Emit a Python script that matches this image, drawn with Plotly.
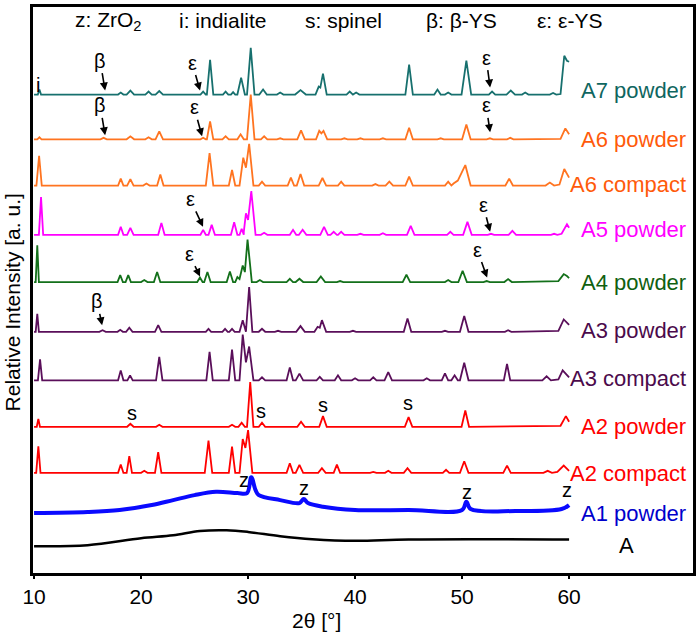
import plotly.graph_objects as go

# ---------------- data ----------------
# crystalline patterns: peaks as (2theta, height, half-base-width) or explicit vertices (2theta, height)
A7_powder = [(10.5, 5, 0.15), (18.1, 2, 0.25), (19.0, 4, 0.35), (20.7, 3, 0.3), (21.7, 3.5, 0.35),
             (25.8, 3, 0.25), (26.45, 35, 0.3), (27.9, 3, 0.25), (28.6, 2.5, 0.2), (29.35, 17, 0.35),
             (30.25, 47, 0.35), (31.4, 5, 0.35), (33.0, 2, 0.3), (34.9, 4.5, 0.5),
             (36.3, 0), (36.6, 8), (36.75, 7), (37.0, 21), (37.35, 0),
             (39.5, 3, 0.3), (40.1, 2, 0.3), (45.05, 30, 0.35), (47.7, 5, 0.3), (48.7, 2, 0.3),
             (50.4, 34, 0.45), (52.8, 3, 0.3), (54.55, 4, 0.4), (55.9, 2, 0.3), (58.5, 1.5, 0.3),
             (59.2, 0.5), (59.55, 39), (59.8, 34), (60.0, 33)]
A6_powder = [(10.5, 2, 0.2), (16.5, 1.5, 0.3), (19.0, 3, 0.35), (20.7, 2, 0.3), (21.7, 8, 0.35),
             (25.8, 1.5, 0.25), (26.45, 18, 0.3), (27.9, 3, 0.3), (29.3, 5, 0.3), (30.25, 45, 0.35),
             (31.5, 3, 0.3), (33.0, 1, 0.3), (34.95, 9, 0.35),
             (36.35, 0), (36.65, 8.5), (36.85, 6), (37.05, 8.5), (37.4, 0),
             (39.0, 1, 0.3), (40.5, 1, 0.3), (42.6, 1, 0.3), (45.05, 11.7, 0.35), (48.0, 1, 0.3),
             (50.4, 15, 0.4), (52.6, 1, 0.3), (54.5, 1.5, 0.3),
             (59.2, 0.5), (59.65, 11), (60.0, 5)]
A6_compact = [(10.47, 30, 0.25), (18.1, 7, 0.25), (19.0, 6.5, 0.3), (20.5, 2, 0.3), (21.8, 11, 0.3),
              (26.4, 32.6, 0.35), (28.5, 15.6, 0.3),
              (29.2, 0), (29.55, 28), (29.8, 18), (30.1, 42), (30.5, 0),
              (31.3, 4, 0.3), (34.0, 8, 0.3), (34.9, 11.6, 0.35), (36.95, 7.6, 0.35), (38.7, 4, 0.3),
              (41.9, 1.5, 0.3), (43.2, 4, 0.35), (45.05, 9, 0.35), (48.7, 4, 0.3),
              (49.2, 2), (49.6, 5), (50.3, 20.6), (50.8, 0),
              (54.4, 7, 0.35), (58.2, 3, 0.4),
              (59.1, 1), (59.55, 16.6), (60.0, 8)]
A5_powder = [(10.65, 38, 0.2), (18.1, 8, 0.25), (19.0, 7, 0.3), (21.9, 12, 0.3), (25.8, 5, 0.25),
             (26.6, 10, 0.3), (28.7, 12.6, 0.3), (29.4, 6, 0.2),
             (29.6, 3), (29.8, 21.6), (30.0, 15), (30.3, 44), (30.7, 0),
             (31.5, 2, 0.3), (34.2, 5, 0.3), (35.1, 5, 0.35), (37.1, 8, 0.35), (38.0, 3, 0.3),
             (38.7, 3, 0.3), (40.5, 1, 0.3), (42.6, 1.5, 0.3), (45.2, 9, 0.35), (48.9, 3, 0.3),
             (50.5, 13, 0.4), (52.7, 1, 0.3), (54.7, 4, 0.35), (58.6, 1, 0.3),
             (59.3, 1), (59.8, 10.6), (60.0, 7)]
A4_powder = [(10.3, 37, 0.15), (18.05, 7, 0.25), (18.8, 7, 0.25), (20.3, 2, 0.3), (21.5, 10, 0.3),
             (25.5, 4.6, 0.25), (26.2, 10, 0.3), (28.3, 10.7, 0.3),
             (28.8, 0), (29.0, 5), (29.2, 3), (29.5, 16.7), (29.7, 10), (29.95, 42.7), (30.35, 0),
             (31.1, 2, 0.3), (33.9, 3.3, 0.3), (34.8, 3.3, 0.35), (36.8, 5.7, 0.4), (38.6, 1, 0.3),
             (44.8, 7.3, 0.35), (48.7, 2, 0.3), (50.05, 11.4, 0.4), (52.3, 1, 0.3), (54.3, 3, 0.35),
             (59.0, 1), (59.5, 8), (59.8, 6), (60.0, 4)]
A3_powder = [(10.3, 18, 0.15), (16.4, 1.5, 0.3), (18.05, 2, 0.25), (18.9, 4, 0.3), (21.6, 6.7, 0.3),
             (26.3, 3, 0.25), (27.85, 3, 0.25), (28.5, 3, 0.25), (29.5, 11.7, 0.3), (30.1, 45, 0.3),
             (31.3, 3, 0.3), (32.8, 1, 0.3), (34.9, 5.7, 0.4),
             (36.2, 0), (36.5, 5), (36.7, 4), (36.9, 11.7), (37.3, 0),
             (39.8, 1, 0.3), (44.9, 13.3, 0.35), (48.4, 1, 0.3), (50.2, 16, 0.4), (54.3, 1.5, 0.3),
             (59.0, 1), (59.5, 12.4), (60.0, 7)]
A3_compact = [(10.56, 21, 0.2), (18.1, 10, 0.25), (18.97, 5, 0.25), (21.7, 23.6, 0.3), (26.4, 28.6, 0.3),
              (28.5, 31, 0.3),
              (29.2, 0), (29.5, 46), (29.8, 18), (30.1, 34), (30.5, 0),
              (31.3, 3, 0.3), (33.9, 13, 0.3), (34.8, 6.7, 0.35), (36.7, 3.5, 0.3), (38.4, 5, 0.3),
              (40.0, 2, 0.3), (41.7, 3, 0.3), (43.1, 8.3, 0.35), (46.7, 2, 0.3), (48.4, 7, 0.3),
              (49.3, 5, 0.3), (50.2, 17.6, 0.4), (54.2, 16.6, 0.3), (57.9, 4, 0.4),
              (59.0, 1), (59.4, 10), (60.0, 3)]
A2_powder = [(10.4, 8, 0.15), (19.0, 3, 0.3), (21.7, 2, 0.3), (28.5, 2, 0.3), (29.4, 4, 0.3),
             (30.2, 45, 0.3), (31.3, 4, 0.3), (34.95, 5, 0.35), (37.0, 10.7, 0.35), (45.0, 9.7, 0.35),
             (50.3, 16.3, 0.35),
             (59.2, 1), (59.7, 10.7), (60.0, 5)]
A2_compact = [(10.4, 26.7, 0.2), (18.1, 8.3, 0.25), (18.9, 16.7, 0.25), (20.3, 2, 0.3), (21.6, 20.7, 0.3),
              (26.3, 32.3, 0.35), (28.5, 26.3, 0.3),
              (29.2, 0), (29.5, 34), (29.75, 25), (30.0, 43), (30.4, 0),
              (33.9, 9.7, 0.3), (34.8, 8, 0.35), (36.9, 4.7, 0.35), (38.3, 8.3, 0.3), (41.7, 1, 0.3),
              (43.1, 2, 0.3), (44.9, 4.7, 0.35), (48.5, 3, 0.3), (50.2, 11.7, 0.4), (54.2, 7.3, 0.35),
              (58.0, 2, 0.4),
              (58.9, 1), (59.5, 7.3), (60.0, 2)]
# amorphous patterns: explicit (2theta, intensity) vertices
A1_powder = [(10, 0), (15, 1), (18, 3), (21, 8), (23, 13), (25, 18), (27, 21.3), (29, 20), (29.9, 20),
             (30.3, 36), (30.7, 23), (31, 18), (33, 13), (34.8, 10), (35.2, 14), (35.6, 10), (37, 6.3),
             (40, 3), (45, 3), (50, 3), (50.4, 11.3), (50.8, 4), (55, 2), (59.3, 4), (60, 8)]
A_sample = [(10, 0), (15, 1), (20, 8), (23, 11), (25.5, 15.3), (28, 16), (30, 14.3), (33, 10),
            (36, 7), (40, 5.3), (45, 6.7), (60, 6.7)]

names = ["A7 powder", "A6 powder", "A6 compact", "A5 powder", "A4 powder", "A3 powder",
         "A3 compact", "A2 powder", "A2 compact", "A1 powder", "A"]
patterns = [A7_powder, A6_powder, A6_compact, A5_powder, A4_powder, A3_powder,
            A3_compact, A2_powder, A2_compact, A1_powder, A_sample]
offsets = [481, 436, 389.5, 340, 292.5, 242.5, 193.7, 147, 100.7, 60.3, 27]
colors = ["#17706e", "#ff7420", "#ff7420", "#ff00ff", "#13701a", "#5a0f5a",
          "#5a0f5a", "#ff0000", "#ff0000", "#0a0aff", "#000000"]
label_colors = ["#0f6660", "#ff5a0a", "#ff5a0a", "#ff00ff", "#106010", "#4b0a4b",
                "#4b0a4b", "#ff0000", "#ff0000", "#0000cc", "#000000"]
label_y = [485, 436, 391, 345, 292, 244, 196, 147, 100, 60, 28]
x_ticks = [10, 20, 30, 40, 50, 60]

FONT = "Liberation Sans, Arial, sans-serif"


def vertices(pattern):
    xs, ys = [10.0], [0.0]
    for p in pattern:
        if len(p) == 3:
            c, h, w = p
            xs += [c - w, c, c + w]
            ys += [0, h, 0]
        else:
            xs.append(p[0])
            ys.append(p[1])
    return xs, ys


fig = go.Figure()
for nm, pat, off, col in zip(names, patterns, offsets, colors):
    if nm in ("A1 powder", "A"):
        xs = [p[0] for p in pat]
        ys = [p[1] for p in pat]
        width = 4 if nm == "A1 powder" else 2.5
        shape = "spline"
    else:
        xs, ys = vertices(pat)
        width = 1.8
        shape = "linear"
    fig.add_trace(go.Scatter(x=xs, y=[off + v for v in ys], mode="lines", name=nm,
                             line=dict(color=col, width=width, shape=shape),
                             showlegend=False, hoverinfo="skip"))

ann = []
# sample labels
for nm, ly, lc in zip(names, label_y, label_colors):
    if nm == "A":
        ann.append(dict(x=65.33, y=ly, text=nm, showarrow=False, xanchor="center", yanchor="middle",
                        font=dict(size=22, color=lc, family=FONT)))
    else:
        ann.append(dict(x=71.12, y=ly, text=nm, showarrow=False, xanchor="right", yanchor="middle",
                        font=dict(size=22, color=lc, family=FONT)))

# phase key at the top
key = [(17.0, "z: ZrO<sub>2</sub>"), (27.66, "i: indialite"), (38.88, "s: spinel"),
       (49.9, "β: β-YS"), (60.0, "ε: ε-YS")]
for kx, kt in key:
    ann.append(dict(x=kx, y=555, text=kt, showarrow=False, xanchor="center", yanchor="middle",
                    font=dict(size=21, color="black", family=FONT)))

# plain markers
plain = [(10.37, 491, "i"), (19.16, 161, "s"), (31.21, 163, "s"), (37.0, 169, "s"), (44.95, 171, "s"),
         (29.63, 93, "z"), (35.23, 85, "z"), (50.47, 81, "z"), (59.81, 83, "z")]
for px_, py_, t in plain:
    ann.append(dict(x=px_, y=py_, text=t, showarrow=False, xanchor="center", yanchor="middle",
                    font=dict(size=20, color="black", family=FONT)))

# arrow markers: head position (data) and text offset (pixels)
arrows = [(16.64, 485, -5, -30, "β"), (25.51, 485, -8, -28, "ε"), (52.62, 488, -4, -30, "ε"),
          (16.64, 440, -5, -30, "β"), (25.7, 439, -8, -29, "ε"), (52.62, 443, -4, -27, "ε"),
          (25.79, 348, -13, -28, "ε"), (52.62, 343, -7, -27, "ε"),
          (25.51, 298, -11, -23, "ε"), (52.34, 297, -10, -28, "ε"),
          (16.36, 249, -5, -24, "β")]
for hx, hy, axp, ayp, t in arrows:
    ann.append(dict(x=hx, y=hy, ax=axp, ay=ayp, text=t, showarrow=True,
                    arrowhead=2, arrowsize=1, arrowwidth=1.6, arrowcolor="black",
                    font=dict(size=20, color="black", family=FONT)))

# axis titles
ann.append(dict(xref="paper", yref="paper", x=-0.0318, y=0.478, text="Relative Intensity [a. u.]",
                xanchor="center", yanchor="middle",
                textangle=-90, showarrow=False, font=dict(size=21, color="black", family=FONT)))
ann.append(dict(xref="paper", yref="paper", x=0.4288, y=-0.0844, text="2θ [°]",
                xanchor="center", yanchor="middle",
                showarrow=False, font=dict(size=21, color="black", family=FONT)))

fig.update_layout(
    width=700, height=633,
    margin=dict(l=33, r=7, t=4, b=60),
    paper_bgcolor="white", plot_bgcolor="white",
    annotations=ann,
    xaxis=dict(range=[9.9, 71.58], tickvals=x_ticks, ticktext=[str(t) for t in x_ticks],
               ticks="outside", ticklen=3, tickwidth=2, tickcolor="black",
               showline=True, linewidth=2.5, linecolor="black", mirror=True,
               showgrid=False, zeroline=False,
               tickfont=dict(size=21, color="black", family=FONT)),
    yaxis=dict(range=[0, 569], showticklabels=False, ticks="",
               showline=True, linewidth=2.5, linecolor="black", mirror=True,
               showgrid=False, zeroline=False),
)

fig.write_html("out.html", config={"displayModeBar": False},
               post_script="document.body.style.margin='0';")
